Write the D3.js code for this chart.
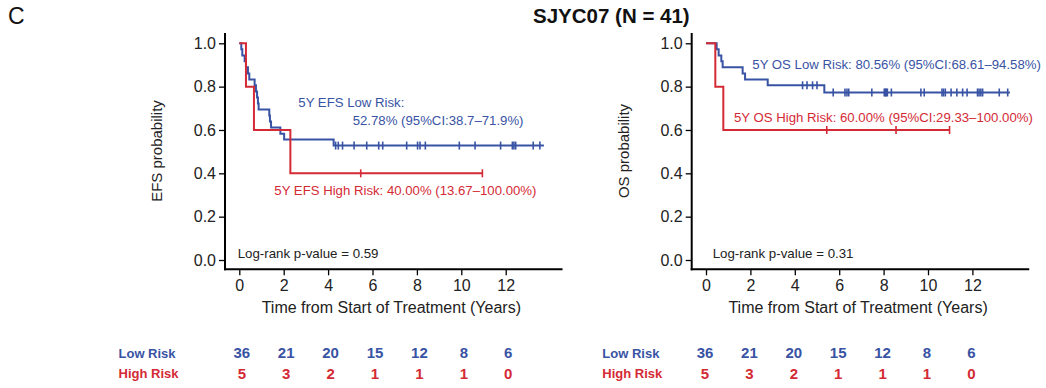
<!DOCTYPE html>
<html>
<head>
<meta charset="utf-8">
<script src="https://cdn.jsdelivr.net/npm/d3@7"></script>
<style>
  body { margin: 0; background: #fff; }
  svg { display: block; font-family: "Liberation Sans", Arial, Helvetica, sans-serif; }
  .axis text { font-size: 16px; fill: #222; }
  .axis line { stroke: #000; stroke-width: 1.3; }
</style>
</head>
<body>
<svg id="chart" width="1046" height="388"></svg>
<script>
var blue = "#3953a4",
    red = "#d42a35";

var timeTicks = [0, 2, 4, 6, 8, 10, 12],
    probTicks = [0, 0.2, 0.4, 0.6, 0.8, 1.0];

// EFS, low risk (step times / survival)
var efsLowTime = [0, 0.09, 0.135, 0.24, 0.30, 0.39, 0.45, 0.69, 0.75, 0.80, 0.84, 0.87, 1.35, 1.38, 1.43, 1.85, 2.02, 4.25],
    efsLowSurv = [1, 0.972, 0.944, 0.917, 0.889, 0.861, 0.833, 0.806, 0.778, 0.750, 0.722, 0.694, 0.667, 0.639, 0.611, 0.583, 0.556, 0.528],
    efsLowCensor = [4.34, 4.46, 4.65, 5.17, 5.74, 6.28, 6.46, 7.54, 8.03, 8.14, 8.38, 9.91, 10.62, 11.77, 12.30, 12.37, 12.45, 13.24, 13.54],
    efsLowEnd = 13.72;

// EFS, high risk
var efsHighTime = [0, 0.30, 0.66, 2.30],
    efsHighSurv = [1, 0.8, 0.6, 0.4],
    efsHighCensor = [5.47, 10.95],
    efsHighEnd = 10.95;

// OS, low risk
var osLowTime = [0, 0.48, 0.57, 0.69, 0.75, 1.65, 1.76, 2.78, 5.33],
    osLowSurv = [1, 0.972, 0.944, 0.917, 0.889, 0.861, 0.833, 0.806, 0.773],
    osLowCensor = [4.35, 4.55, 4.80, 5.00, 5.73, 6.26, 6.35, 6.43, 7.47, 8.03, 8.08, 8.12, 8.17, 8.35, 9.68, 9.83,
                   10.63, 10.70, 10.78, 11.04, 11.30, 11.56, 11.76, 12.23, 12.30, 12.38, 12.46, 13.21, 13.59],
    osLowEnd = 13.69;

// OS, high risk
var osHighTime = [0, 0.42, 0.78],
    osHighSurv = [1, 0.8, 0.6],
    osHighCensor = [5.44, 8.56, 10.97],
    osHighEnd = 10.97;

// numbers at risk
var riskLow = [36, 21, 20, 15, 12, 8, 6],
    riskHigh = [5, 3, 2, 1, 1, 1, 0];

var svg = d3.select("#chart");

svg.append("text").attr("x", 8).attr("y", 24)
  .style("font-size", "23px").attr("fill", "#111").text("C");
svg.append("text").attr("x", 533).attr("y", 22.5)
  .style("font-size", "20.5px").style("font-weight", "bold").attr("fill", "#111")
  .text("SJYC07 (N = 41)");

function drawPanel(dx, p) {
  var x = d3.scaleLinear().domain([0, 12]).range([239.3 + dx, 505.7 + dx]),
      y = d3.scaleLinear().domain([0, 1]).range([260, 43.3]),
      axisX = 225 + dx,
      axisY = 269.3;

  var g = svg.append("g");

  g.append("g").attr("class", "axis")
    .attr("transform", "translate(" + axisX + ",0)")
    .call(d3.axisLeft(y).tickValues(probTicks).tickFormat(d3.format(".1f")).tickSize(6).tickPadding(3))
    .call(a => a.select(".domain").remove());

  g.append("g").attr("class", "axis")
    .attr("transform", "translate(0," + axisY + ")")
    .call(d3.axisBottom(x).tickValues(timeTicks).tickSize(6).tickPadding(4))
    .call(a => a.select(".domain").remove());

  g.append("line").attr("x1", axisX).attr("x2", axisX).attr("y1", 33).attr("y2", axisY + 1)
    .attr("stroke", "#000").attr("stroke-width", 2);
  g.append("line").attr("x1", axisX - 1).attr("x2", x(14.56)).attr("y1", axisY).attr("y2", axisY)
    .attr("stroke", "#000").attr("stroke-width", 2);

  g.append("text").attr("transform", "translate(" + (157 + dx) + ",151) rotate(-90)")
    .attr("text-anchor", "middle").attr("dy", "0.35em")
    .style("font-size", "15px").attr("fill", "#222").text(p.ylab);
  g.append("text").attr("x", x(6.85)).attr("y", 312.5).attr("text-anchor", "middle")
    .style("font-size", "16px").attr("fill", "#222").text("Time from Start of Treatment (Years)");

  var line = d3.line().x(d => x(d[0])).y(d => y(d[1])).curve(d3.curveStepAfter);

  p.curves.forEach(function(c) {
    var pts = c.time.map((t, i) => [t, c.surv[i]]);
    pts.push([c.end, c.surv[c.surv.length - 1]]);
    g.append("path").attr("d", line(pts)).attr("fill", "none")
      .attr("stroke", c.color).attr("stroke-width", 2);
    g.append("g").selectAll("line").data(c.censor).enter().append("line")
      .attr("x1", d => x(d)).attr("x2", d => x(d))
      .attr("y1", d => y(c.surv[d3.bisectRight(c.time, d) - 1]) - 4)
      .attr("y2", d => y(c.surv[d3.bisectRight(c.time, d) - 1]) + 4)
      .attr("stroke", c.color).attr("stroke-width", 1.6);
  });

  p.notes.forEach(function(n) {
    g.append("text").attr("x", n[0]).attr("y", n[1]).attr("fill", n[3])
      .style("font-size", n[4] || "13.2px").text(n[2]);
  });

  // numbers at risk table
  var t = g.append("g").attr("transform", "translate(" + p.tableShift + ",0)");
  t.append("text").attr("x", p.labelX).attr("y", 357.5).attr("fill", blue)
    .style("font-size", "13px").style("font-weight", "bold").text("Low Risk");
  t.append("text").attr("x", p.labelX).attr("y", 377.5).attr("fill", red)
    .style("font-size", "13px").style("font-weight", "bold").text("High Risk");
  [[riskLow, 357.5, blue], [riskHigh, 378.5, red]].forEach(function(r) {
    t.append("g").selectAll("text").data(r[0]).enter().append("text")
      .attr("x", (d, i) => x(timeTicks[i])).attr("y", r[1])
      .attr("text-anchor", "middle").attr("fill", r[2])
      .style("font-size", "15px").style("font-weight", "bold").text(d => d);
  });
}

drawPanel(0, {
  ylab: "EFS probability",
  curves: [
    {time: efsLowTime, surv: efsLowSurv, censor: efsLowCensor, end: efsLowEnd, color: blue},
    {time: efsHighTime, surv: efsHighSurv, censor: efsHighCensor, end: efsHighEnd, color: red}
  ],
  notes: [
    [298.3, 107, "5Y EFS Low Risk:", blue],
    [352.7, 124.5, "52.78% (95%CI:38.7\u201371.9%)", blue],
    [274.3, 194.5, "5Y EFS High Risk: 40.00% (13.67\u2013100.00%)", red],
    [237.7, 257.5, "Log-rank p-value = 0.59", "#222", "13.3px"]
  ],
  tableShift: 2.5,
  labelX: 116
});

drawPanel(466.7, {
  ylab: "OS probability",
  curves: [
    {time: osLowTime, surv: osLowSurv, censor: osLowCensor, end: osLowEnd, color: blue},
    {time: osHighTime, surv: osHighSurv, censor: osHighCensor, end: osHighEnd, color: red}
  ],
  notes: [
    [752.3, 68.8, "5Y OS Low Risk: 80.56% (95%CI:68.61\u201394.58%)", blue],
    [734, 121.8, "5Y OS High Risk: 60.00% (95%CI:29.33\u2013100.00%)", red],
    [712.7, 257.5, "Log-rank p-value = 0.31", "#222", "13.3px"]
  ],
  tableShift: -1,
  labelX: 603.3
});
</script>
</body>
</html>
